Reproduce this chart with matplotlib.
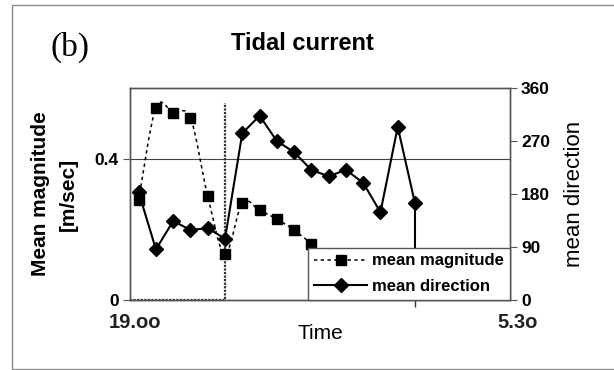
import matplotlib
matplotlib.use('Agg')
import matplotlib.pyplot as plt
import numpy as np
from matplotlib.patches import Rectangle, PathPatch
from matplotlib.path import Path
from matplotlib.lines import Line2D

# half-hourly samples from 19.00 to 5.30 (22 slots)
n_slots = 22
magnitude = [0.283, 0.544, 0.530, 0.515, 0.294, 0.130, 0.275, 0.254, 0.229, 0.198, 0.159]
direction = [183, 86, 134, 119, 122, 104, 283, 313, 270, 251, 221, 210, 221, 199, 149, 294, 164]
time_labels = ['19.oo', '5.3o']
time_label_slots = [0, 21]
dotted_marker_slot = 5
dotted_marker_top = 0.557
solid_marker_slot = 16

plt.rcParams['font.family'] = ['Liberation Sans', 'DejaVu Sans']


def smooth_path(xs, ys):
    # Excel-like smoothed line: cubic bezier with catmull-rom control points
    pts = np.column_stack([xs, ys]).astype(float)
    verts = [pts[0]]
    codes = [Path.MOVETO]
    for i in range(len(pts) - 1):
        p0 = pts[i - 1] if i > 0 else pts[i]
        p1, p2 = pts[i], pts[i + 1]
        p3 = pts[i + 2] if i + 2 < len(pts) else pts[i + 1]
        verts += [p1 + (p2 - p0) / 6.0, p2 - (p3 - p1) / 6.0, p2]
        codes += [Path.CURVE4] * 3
    return Path(verts, codes)


fig = plt.figure(figsize=(6.14, 3.70), dpi=100)
fig.patches.append(Rectangle((12 / 614, 1 / 370), 1.0, 364 / 370, transform=fig.transFigure,
                             fill=False, edgecolor='#8c8c8c', linewidth=1.0))

ax = fig.add_axes([130 / 614, 70 / 370, 380 / 614, 212 / 370])
ax2 = ax.twinx()

x_mag = np.arange(len(magnitude))
x_dir = np.arange(len(direction))
mag_style = (0, (2.2, 2.2))

# dotted event marker (bottom run + vertical)
ax.plot([-0.5, dotted_marker_slot, dotted_marker_slot], [0, 0, dotted_marker_top],
        color='#333333', linestyle=(0, (1, 0.6)), linewidth=1.6, clip_on=False, zorder=1)
ax.axhline(0.4, color='#444444', linewidth=0.8, zorder=0)

ax.add_patch(PathPatch(smooth_path(x_mag, magnitude), fill=False, edgecolor='black',
                       linestyle=mag_style, linewidth=1.1, zorder=2))
ax.plot(x_mag, magnitude, linestyle='none', color='black', marker='s', markersize=6.5, zorder=3)
ml = Line2D([], [], color='black', linestyle=mag_style, linewidth=1.1, marker='s',
            markersize=6.5, label='mean magnitude')

ax2.vlines(solid_marker_slot, 0, direction[solid_marker_slot], color='black', linewidth=1.5)
dl, = ax2.plot(x_dir, direction, color='black', linewidth=1.5, marker='D', markersize=7.5,
               label='mean direction', zorder=3)

ax.set_xlim(-0.5, n_slots - 0.5)
ax.set_ylim(0, 0.6)
ax2.set_ylim(0, 360)

ax.set_yticks([0, 0.4])
ax.set_yticklabels(['0', '0.4'])
ax2.set_yticks([0, 90, 180, 270, 360])
ax.set_xticks([solid_marker_slot])
ax.set_xticklabels([''])
ax.tick_params(axis='x', direction='out', length=5, width=1, color='#333333')
ax.tick_params(axis='y', direction='out', length=5, width=0.8, color='#555555', pad=3)
ax2.tick_params(axis='y', direction='out', length=5, width=0.8, color='#555555', pad=3)
for lab in ax.get_yticklabels() + ax2.get_yticklabels():
    lab.set_fontsize(12.5)
    lab.set_fontweight('bold')

for a in (ax, ax2):
    for s in a.spines.values():
        s.set_color('#555555')
        s.set_linewidth(1.0)

offsets = [-2.6, 11.5]
for slot, lab, off in zip(time_label_slots, time_labels, offsets):
    ax.annotate(lab, xy=(slot, 0), xycoords=('data', 'axes fraction'), xytext=(off, -16),
                textcoords='offset points', ha='center', va='center',
                fontsize=14.5, fontweight='bold', color='#222222')

ax.set_xlabel('Time', fontsize=15, labelpad=9)
ax.set_ylabel('Mean magnitude\n[m/sec]', fontsize=15, fontweight='bold', labelpad=12,
              linespacing=1.6)
ax2.set_ylabel('mean direction', fontsize=16, labelpad=10)

fig.text(302 / 614, 1 - 44 / 370, 'Tidal current', fontsize=17, fontweight='bold',
         ha='center', va='center')
fig.text(70 / 614, 1 - 47 / 370, '(b)', fontsize=24, family='Liberation Serif',
         ha='center', va='center')

leg = ax2.legend(handles=[ml, dl], loc='lower right', bbox_to_anchor=(1, 0),
                 borderaxespad=0, fancybox=False, framealpha=1, edgecolor='#555555',
                 prop={'weight': 'bold', 'size': 12}, handlelength=3.2, handletextpad=0.3,
                 labelspacing=0.65, borderpad=0.35)
leg.get_frame().set_linewidth(1.0)
leg.set_zorder(10)

fig.savefig('out.png', dpi=100)
